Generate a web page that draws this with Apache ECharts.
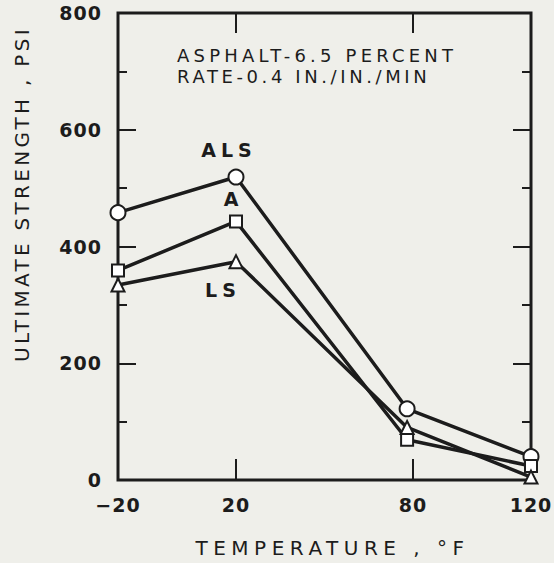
<!DOCTYPE html>
<html>
<head>
<meta charset="utf-8">
<script src="https://cdn.jsdelivr.net/npm/echarts@6/dist/echarts.min.js"></script>
<style>
  html, body { margin: 0; padding: 0; background: #efefea; }
  #chart { width: 554px; height: 563px; }
</style>
</head>
<body>
<div id="chart"></div>
<script>
// Test temperatures, deg F
var temperatures = [-20, 20, 78, 120];
// Ultimate strength, psi, for each mix
var alsValues = [458, 519, 122, 40];
var aValues = [359, 443, 69, 24];
var lsValues = [334, 374, 90, 5];
// Axis labels
var xTickValues = [-20, 20, 80, 120];
var yTickValues = [0, 200, 400, 600, 800];

var ink = '#1c1c1c';
var font = 'DejaVu Sans';

function pairs(values) {
  return temperatures.map(function (t, i) { return [t, values[i]]; });
}

function withLabel(values, idx, text, pos, offset) {
  var d = pairs(values);
  d[idx] = {
    value: d[idx],
    label: {
      show: true, formatter: text, position: pos, offset: offset,
      color: ink, fontFamily: font, fontSize: 19, fontWeight: 'bold'
    }
  };
  return d;
}

function series(name, data, symbol, size) {
  return {
    name: name, type: 'line', data: data, silent: true,
    symbol: symbol, symbolSize: size,
    lineStyle: { color: ink, width: 3.5 },
    itemStyle: { color: ink, borderColor: ink, borderWidth: 2.5 },
    emphasis: { disabled: true },
    animation: false, z: 3
  };
}

var tick = function (len, vals) {
  var t = { show: true, inside: true, length: len, lineStyle: { color: ink, width: 2 } };
  if (vals) t.customValues = vals;
  return t;
};
var noLine = { show: false, onZero: false };

var chart = echarts.init(document.getElementById('chart'), null, { renderer: 'svg' });

chart.setOption({
  backgroundColor: '#efefea',
  animation: false,
  grid: { left: 118, right: 23, top: 13, bottom: 77, show: true, borderColor: ink, borderWidth: 3 },
  xAxis: [{
    type: 'value', min: -20, max: 120,
    axisLine: noLine, splitLine: { show: false },
    axisTick: tick(21, [20, 80]),
    axisLabel: { customValues: xTickValues, color: ink, fontFamily: font, fontSize: 19, fontWeight: 'bold', margin: 15,
      formatter: function (v) { return v < 0 ? '\u2212' + Math.abs(v) : String(v); } },
    name: 'TEMPERATURE , \u00B0F', nameLocation: 'middle', nameGap: 58,
    nameTextStyle: { color: ink, fontFamily: font, fontSize: 20, padding: [0, 0, 0, 16] }
  }, {
    type: 'value', min: -20, max: 120, position: 'top',
    axisLine: noLine, splitLine: { show: false },
    axisTick: tick(20, [20, 80]),
    axisLabel: { show: false }
  }],
  yAxis: [{
    type: 'value', min: 0, max: 800, interval: 200,
    axisLine: noLine, splitLine: { show: false },
    axisTick: tick(18),
    minorTick: { show: true, splitNumber: 2, length: 9, lineStyle: { color: ink, width: 2 } },
    axisLabel: { customValues: yTickValues, color: ink, fontFamily: font, fontSize: 19, fontWeight: 'bold', margin: 16 }
  }, {
    type: 'value', min: 0, max: 800, interval: 200, position: 'right',
    axisLine: noLine, splitLine: { show: false },
    axisTick: tick(18),
    minorTick: { show: true, splitNumber: 2, length: 9, lineStyle: { color: ink, width: 2 } },
    axisLabel: { show: false }
  }],
  series: [
    series('ALS', withLabel(alsValues, 1, 'ALS', 'top', [-7, -4]), 'emptyCircle', 15),
    series('A', withLabel(aValues, 1, 'A', 'top', [-5, -1]), 'emptyRect', 12),
    series('LS', withLabel(lsValues, 1, 'LS', 'bottom', [-13, 6]), 'emptyTriangle', 13)
  ],
  graphic: [
    {
      type: 'text', x: 177, y: 55,
      style: { text: 'ASPHALT-6.5 PERCENT', fill: ink, fontFamily: font, fontSize: 18, verticalAlign: 'middle' }
    },
    {
      type: 'text', x: 177, y: 76,
      style: { text: 'RATE-0.4 IN./IN./MIN', fill: ink, fontFamily: font, fontSize: 18, verticalAlign: 'middle' }
    },
    {
      type: 'text', x: 22, y: 194, rotation: Math.PI / 2,
      style: { text: 'ULTIMATE STRENGTH , PSI', fill: ink, fontFamily: font, fontSize: 20,
        align: 'center', verticalAlign: 'middle' }
    }
  ]
});

// Wide stencil-style lettering: spread the characters of each caption.
var spacing = {
  'ASPHALT-6.5 PERCENT': 4.2,
  'RATE-0.4 IN./IN./MIN': 3.6,
  'ULTIMATE STRENGTH , PSI': 3.3,
  'TEMPERATURE , \u00B0F': 5.5,
  'ALS': 5,
  'LS': 5
};
document.querySelectorAll('#chart svg text').forEach(function (el) {
  var s = spacing[el.textContent];
  if (s) el.setAttribute('letter-spacing', s);
  else if (/^[\u2212\d]+$/.test(el.textContent)) el.setAttribute('letter-spacing', 1);
});
</script>
</body>
</html>
